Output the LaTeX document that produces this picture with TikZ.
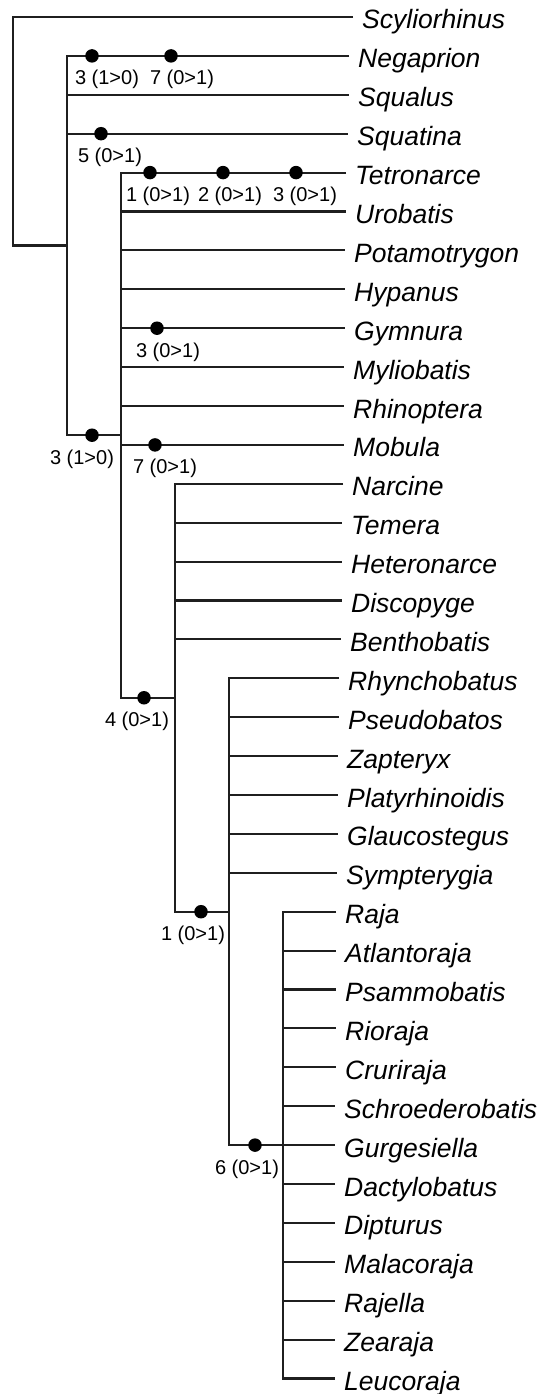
\documentclass[tikz,border=0pt]{standalone}
\usepackage{fontspec}
\setmainfont{Liberation Sans}
\usetikzlibrary{positioning}
\tikzset{
  branch/.style={line width=2.1pt, draw=black!88},
  taxon/.style={anchor=west, inner xsep=9pt, inner ysep=0pt, text height=24pt, text depth=0pt, font=\fontsize{26.5}{30}\selectfont\itshape},
  dot/.style={circle, fill=black, inner sep=0pt, minimum size=13.5pt},
  change/.style={anchor=base, inner sep=0pt, font=\fontsize{20}{22}\selectfont},
}
\begin{document}
\begin{tikzpicture}[x=1pt,y=-1pt]
    \useasboundingbox (0,0) rectangle (545,1394);
    % taxa, one row every 38.9
    \foreach \name/\ex [count=\i from 0] in {Scyliorhinus/353,
      Negaprion/349, Squalus/349, Squatina/348,
      Tetronarce/346, Urobatis/346, Potamotrygon/345, Hypanus/345,
      Gymnura/345, Myliobatis/344, Rhinoptera/344, Mobula/344,
      Narcine/343, Temera/342, Heteronarce/342, Discopyge/342, Benthobatis/341,
      Rhynchobatus/339, Pseudobatos/339, Zapteryx/338, Platyrhinoidis/338,
      Glaucostegus/338, Sympterygia/337,
      Raja/336, Atlantoraja/336, Psammobatis/336, Rioraja/336, Cruriraja/336,
      Schroederobatis/335, Gurgesiella/335, Dactylobatus/335, Dipturus/335,
      Malacoraja/335, Rajella/335, Zearaja/335, Leucoraja/335}
      \node[taxon] (t\i) at (\ex,17+38.9*\i) {\name};
    % internal nodes
    \coordinate (nR) at (13,131.25);
    \coordinate (nA) at (67,245.5);
    \coordinate (nB) at (121,435.2);
    \coordinate (nC) at (175,697.75);
    \coordinate (nD) at (229,911.7);
    \coordinate (nE) at (283,1145.1);
    \draw[branch] (t0.west) -- (nR |- t0.west) -- (nR |- nA) -- (nA);
    \draw[branch] (t1.west) -- (nA |- t1.west) -- (nA |- nB) -- (nB);
    \foreach \i in {2,3} \draw[branch] (nA |- t\i.west) -- (t\i.west);
    \draw[branch] (t4.west) -- (nB |- t4.west) -- (nB |- nC) -- (nC);
    \foreach \i in {5,...,11} \draw[branch] (nB |- t\i.west) -- (t\i.west);
    \draw[branch] (t12.west) -- (nC |- t12.west) -- (nC |- nD) -- (nD);
    \foreach \i in {13,...,16} \draw[branch] (nC |- t\i.west) -- (t\i.west);
    \draw[branch] (t17.west) -- (nD |- t17.west) -- (nD |- nE) -- (nE);
    \foreach \i in {18,...,22} \draw[branch] (nD |- t\i.west) -- (t\i.west);
    \draw[branch] (t23.west) -- (nE |- t23.west) -- (nE |- t35.west) -- (t35.west);
    \foreach \i in {24,...,34} \draw[branch] (nE |- t\i.west) -- (t\i.west);
    % character changes
    \foreach \px/\row/\dx/\txt [count=\k] in {
        92/t1.west/15/{3 (1>0)}, 171/t1.west/11/{7 (0>1)},
        101/t3.west/9/{5 (0>1)},
        150/t4.west/8/{1 (0>1)}, 223/t4.west/7/{2 (0>1)}, 296/t4.west/9/{3 (0>1)},
        157/t8.west/11/{3 (0>1)},
        92/nB/-10/{3 (1>0)},
        155/t11.west/10/{7 (0>1)},
        144/nC/-7/{4 (0>1)},
        201/nD/-8/{1 (0>1)},
        255/nE/-8/{6 (0>1)}}
    {
      \node[dot] (d\k) at (\px,0 |- \row) {};
      \node[change] (c\k) at ([xshift=\dx pt,yshift=-29pt]d\k.center) {\txt};
    }
\end{tikzpicture}
\end{document}
